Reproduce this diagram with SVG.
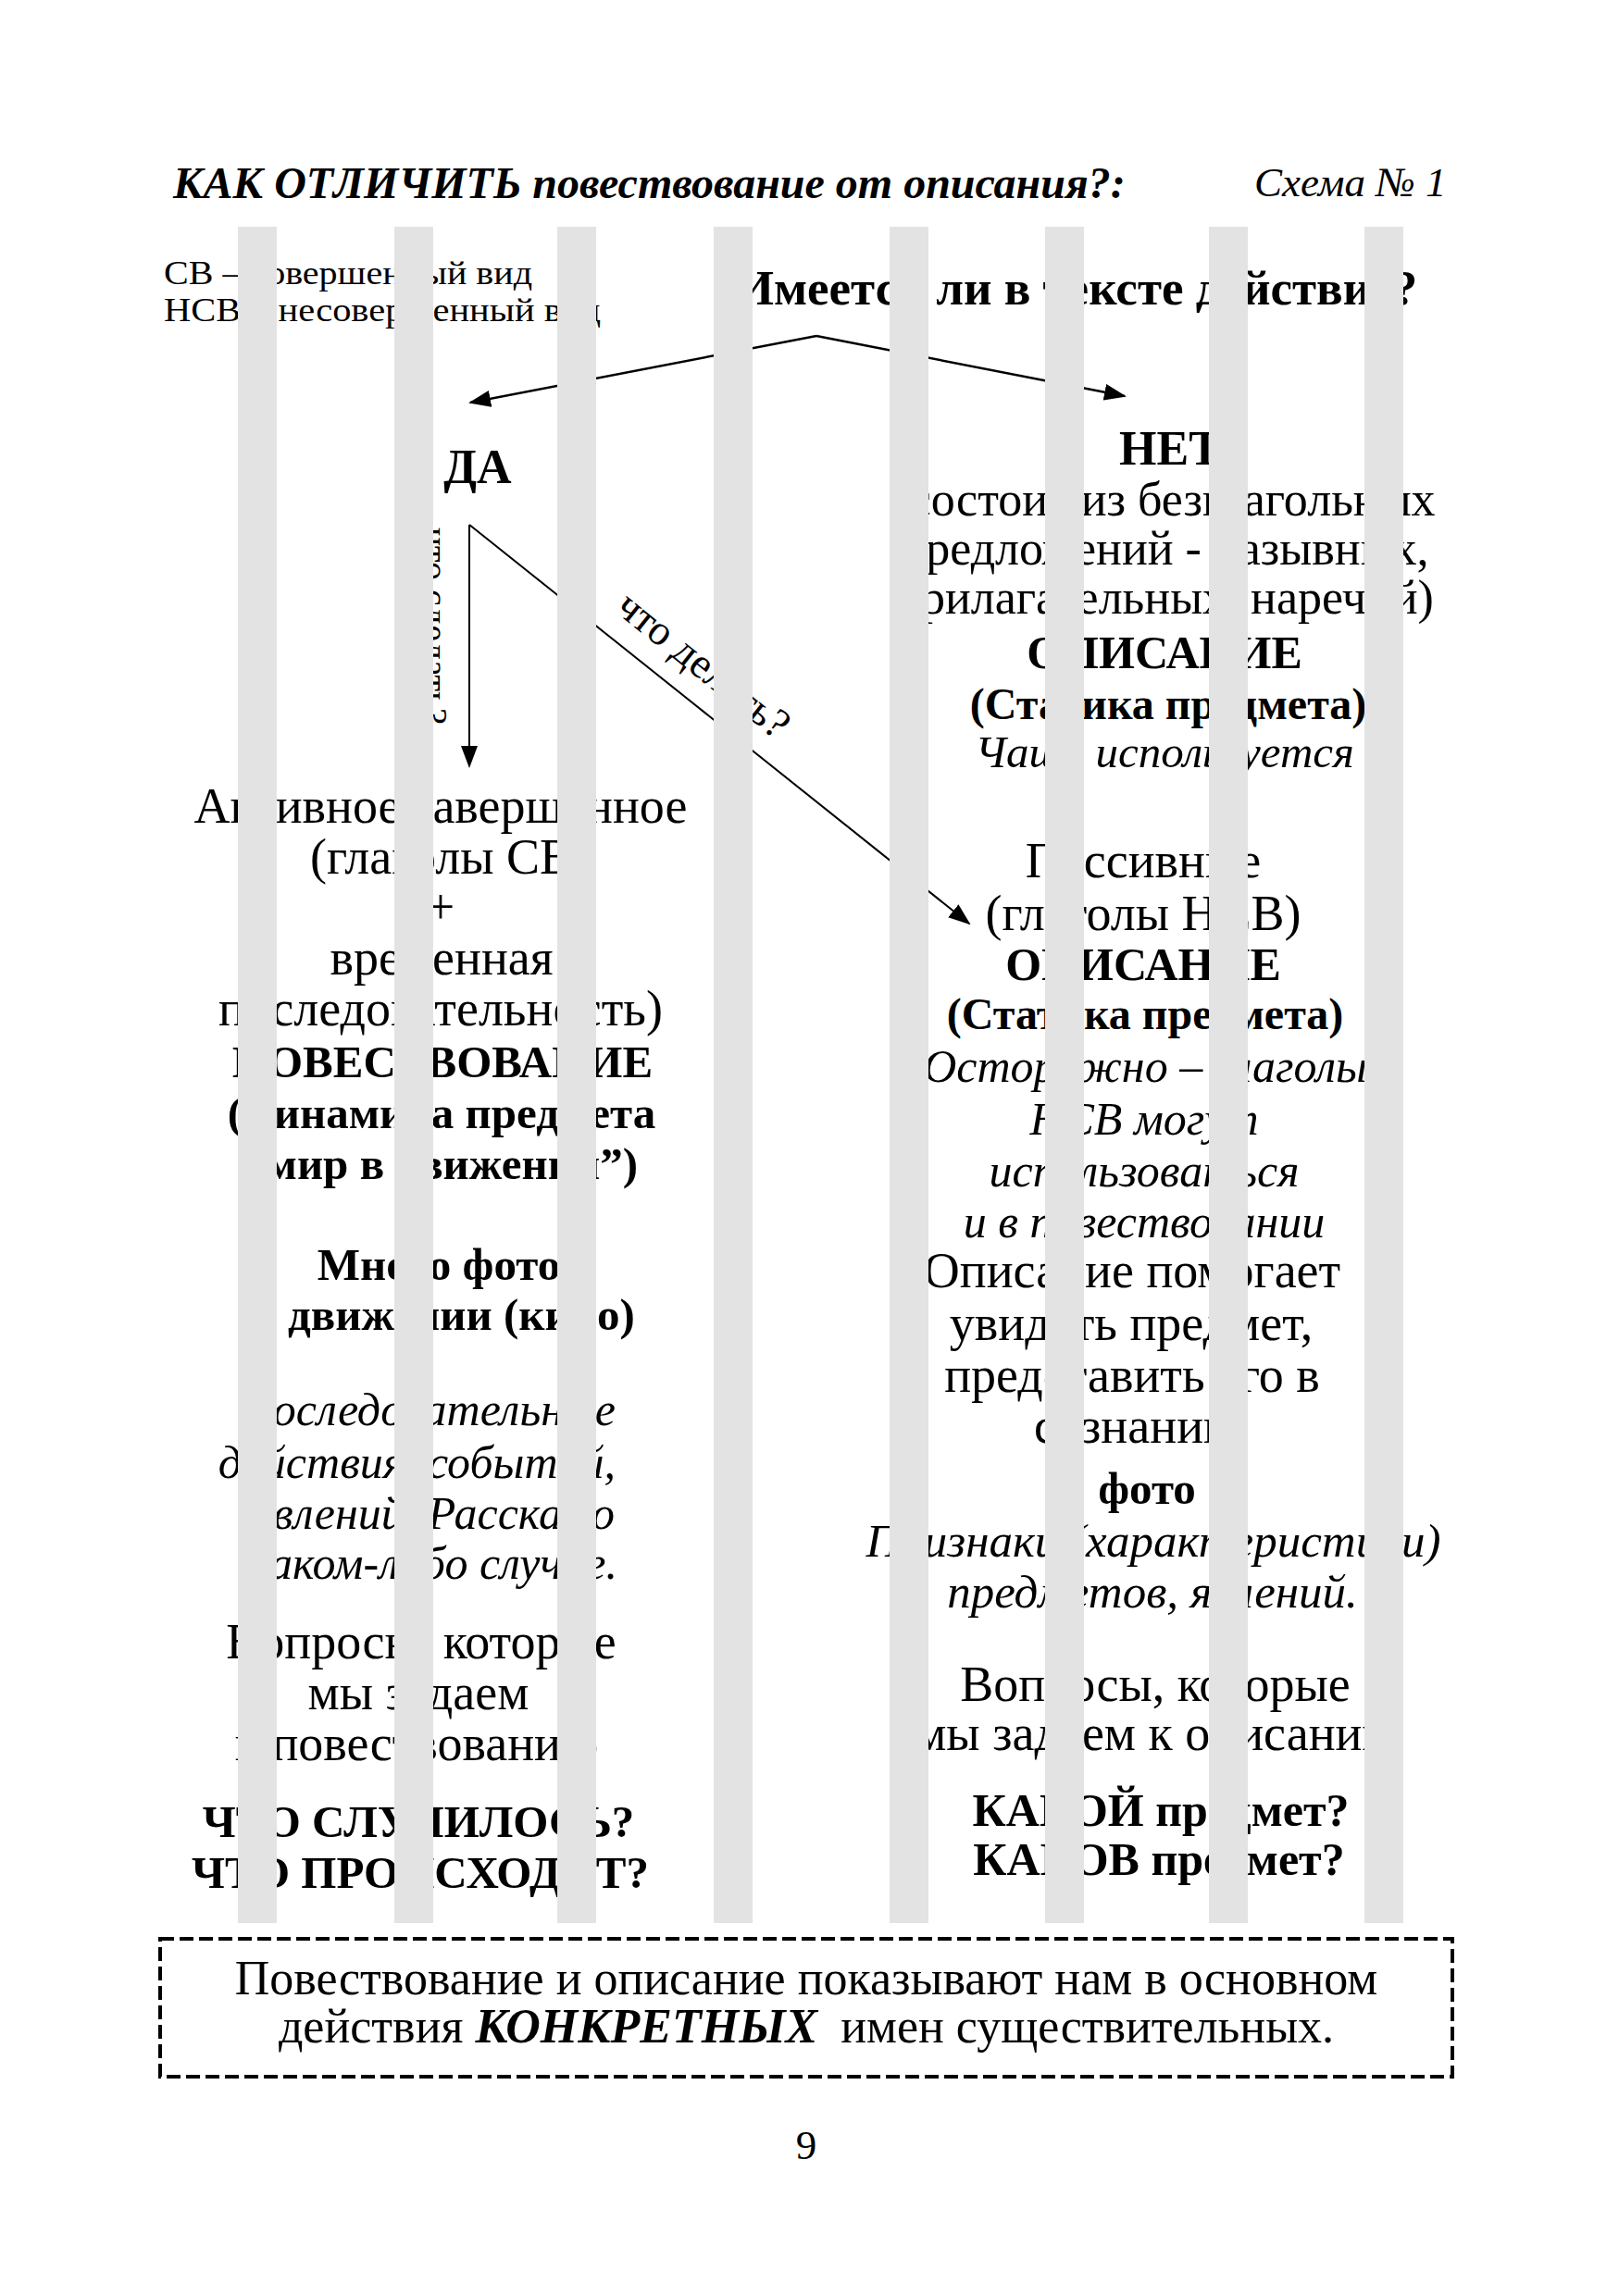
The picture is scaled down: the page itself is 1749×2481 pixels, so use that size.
<svg xmlns="http://www.w3.org/2000/svg" width="1749" height="2481" viewBox="0 0 1749 2481">
<style>
text{font-family:"Liberation Serif","Times New Roman",serif;fill:#000}
.c{text-anchor:middle}
.e{text-anchor:end}
.r{font-size:54px}
.b{font-size:49px;font-weight:bold}
.i{font-size:50px;font-style:italic}
.bi{font-weight:bold;font-style:italic}
.ln{stroke:#000;fill:none}
.bar{fill:#e3e3e3}
</style>
<defs>
<marker id="ah" markerWidth="24" markerHeight="18" refX="22" refY="9" orient="auto" markerUnits="userSpaceOnUse">
<path d="M0,0 L24,9 L0,18 Z" fill="#000"/>
</marker>
</defs>
<rect width="1749" height="2481" fill="#fff"/>

<g id="title">
<text x="187" y="214" class="bi" style="font-size:48px">КАК ОТЛИЧИТЬ повествование от описания?:</text>
<text x="1355" y="212" class="i" style="font-size:45px">Схема № 1</text>
</g>

<g id="legend">
<text x="177" y="307" style="font-size:35px" textLength="398" lengthAdjust="spacingAndGlyphs">СВ – совершенный вид</text>
<text x="177" y="347" style="font-size:35px" textLength="472" lengthAdjust="spacingAndGlyphs">НСВ – несовершенный вид</text>
</g>

<g id="question">
<text x="1163" y="329" class="c" style="font-size:53px;font-weight:bold">Имеется ли в тексте действие?</text>
</g>

<g id="connectors">
<line class="ln" stroke-width="2.5" x1="882" y1="363" x2="508" y2="435" marker-end="url(#ah)"/>
<line class="ln" stroke-width="2.5" x1="882" y1="363" x2="1215" y2="428" marker-end="url(#ah)"/>
<line class="ln" stroke-width="2" x1="507" y1="567" x2="507" y2="828" marker-end="url(#ah)"/>
<line class="ln" stroke-width="2" x1="507" y1="567" x2="1047" y2="998" marker-end="url(#ah)"/>
<text x="456" y="570" transform="rotate(90 456 570)" style="font-size:40px">что сделать?</text>
<text x="663" y="660" transform="rotate(38.6 663 660)" style="font-size:46px">что делать?</text>
</g>

<g id="node-da">
<text x="516" y="522" class="c" style="font-size:52px;font-weight:bold">ДА</text>
</g>

<g id="node-net">
<text x="1264" y="502" class="c" style="font-size:52px;font-weight:bold">НЕТ</text>
<text x="1258" y="557" class="c" style="font-size:52px">(состоит из безглагольных</text>
<text x="1258" y="610" class="c" style="font-size:52px">предложений - назывных,</text>
<text x="1258" y="663" class="c" style="font-size:52px">прилагательных, наречий)</text>
<text x="1258" y="722" class="c b" style="font-size:50px">ОПИСАНИЕ</text>
<text x="1262" y="777" class="c b" style="font-size:48px">(Статика предмета)</text>
<text x="1258" y="829" class="c i" style="font-size:49px">Чаще используется</text>
</g>

<g id="node-active">
<text x="476" y="889" class="c r">Активное завершенное</text>
<text x="486" y="944" class="c r">(глаголы СВ)</text>
<text x="476" y="998" class="c r">+</text>
<text x="477" y="1053" class="c r">временная</text>
<text x="476" y="1108" class="c r">последовательность)</text>
<text x="478" y="1164" class="c b">ПОВЕСТВОВАНИЕ</text>
<text x="477" y="1219" class="c b">(Динамика предмета</text>
<text x="476" y="1274" class="c b">“мир в движении”)</text>
<text x="474" y="1383" class="c b">Много фото</text>
<text x="479" y="1437" class="c b">в движении (кино)</text>
<text x="665" y="1540" class="e i">Последовательные</text>
<text x="665" y="1597" class="e i">действия, событий,</text>
<text x="664" y="1652" class="e i">явлений. Рассказ о</text>
<text x="667" y="1706" class="e i">каком-либо случае.</text>
<text x="455" y="1792" class="c r">Вопросы, которые</text>
<text x="452" y="1847" class="c r">мы задаем</text>
<text x="450" y="1902" class="c r">к повествованию</text>
<text x="452" y="1985" class="c b">ЧТО СЛУЧИЛОСЬ?</text>
<text x="454" y="2040" class="c b">ЧТО ПРОИСХОДИТ?</text>
</g>

<g id="node-passive">
<text x="1235" y="948" class="c r">Пассивные</text>
<text x="1235" y="1005" class="c r">(глаголы НСВ)</text>
<text x="1235" y="1059" class="c b" style="font-size:50px">ОПИСАНИЕ</text>
<text x="1237" y="1112" class="c b" style="font-size:48px">(Статика предмета)</text>
<text x="1237" y="1169" class="c i">Осторожно – глаголы</text>
<text x="1236" y="1226" class="c i">НСВ могут</text>
<text x="1236" y="1282" class="c i">использоваться</text>
<text x="1236" y="1337" class="c i">и в повествовании</text>
<text x="1223" y="1391" class="c r">Описание помогает</text>
<text x="1222" y="1448" class="c r">увидеть предмет,</text>
<text x="1223" y="1504" class="c r">представить его в</text>
<text x="1223" y="1559" class="c r">сознании</text>
<text x="1239" y="1625" class="c b">фото</text>
<text x="1246" y="1682" class="c i" style="font-size:51px">Признаки (характеристики)</text>
<text x="1245" y="1737" class="c i" style="font-size:51px">предметов, явлений.</text>
<text x="1248" y="1838" class="c r">Вопросы, которые</text>
<text x="1250" y="1891" class="c r">мы задаем к описанию</text>
<text x="1254" y="1973" class="c b" style="font-size:50px">КАКОЙ предмет?</text>
<text x="1252" y="2026" class="c b" style="font-size:50px">КАКОВ предмет?</text>
</g>

<g id="occluders">
<rect class="bar" x="257" y="245" width="42" height="1833"/>
<rect class="bar" x="426" y="245" width="42" height="1833"/>
<rect class="bar" x="602" y="245" width="42" height="1833"/>
<rect class="bar" x="771" y="245" width="42" height="1833"/>
<rect class="bar" x="961" y="245" width="42" height="1833"/>
<rect class="bar" x="1129" y="245" width="42" height="1833"/>
<rect class="bar" x="1306" y="245" width="42" height="1833"/>
<rect class="bar" x="1474" y="245" width="42" height="1833"/>
</g>

<g id="summary-box">
<rect x="173" y="2095" width="1396" height="149" fill="none" stroke="#000" stroke-width="4" stroke-dasharray="15 6"/>
<text x="871" y="2155" class="c" style="font-size:52px">Повествование и описание показывают нам в основном</text>
<text x="871" y="2207" class="c" style="font-size:52px">действия <tspan class="bi">КОНКРЕТНЫХ</tspan><tspan dx="12"> имен существительных.</tspan></text>
</g>

<g id="page-number">
<text x="871" y="2333" class="c" style="font-size:45px">9</text>
</g>
</svg>
